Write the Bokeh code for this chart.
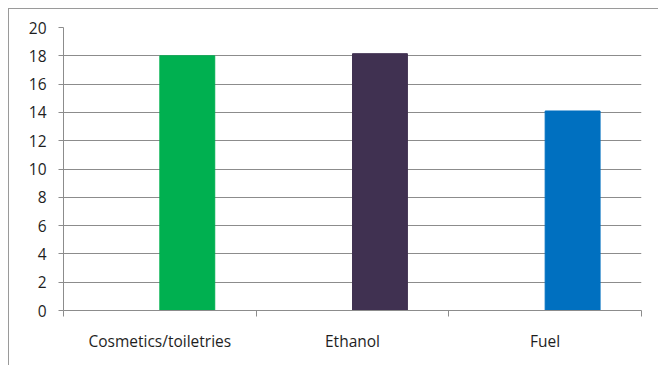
from bokeh.plotting import figure
from bokeh.models import ColumnDataSource, FixedTicker, Range1d
from bokeh.embed import file_html
from bokeh.resources import INLINE
import numpy as np

categories = ["Cosmetics/toiletries", "Ethanol", "Fuel"]
values = [18.0, 18.15, 14.1]
colors = ["#00B050", "#403151", "#0070C0"]
y_ticks = [0, 2, 4, 6, 8, 10, 12, 14, 16, 18, 20]

bar_w = 0.285
idx = np.arange(len(categories))
src = ColumnDataSource(dict(x=idx + 0.5 + bar_w / 2, top=values, color=colors, cat=categories))

p = figure(width=650, height=357, output_backend="svg", toolbar_location=None,
           x_range=Range1d(0, len(categories)), y_range=Range1d(0, 20),
           min_border_left=54, min_border_right=18, min_border_top=18, min_border_bottom=56)
p.margin = (8, 0, 0, 8)
p.styles = {"border-top": "1px solid #9a9a9a", "border-left": "1px solid #9a9a9a"}
p.outline_line_color = None
p.background_fill_color = "white"
p.border_fill_color = "white"

p.vbar(x="x", top="top", width=bar_w, bottom=0, color="color", source=src)

grid_c = "#8c8c8c"
font = "Open Sans"
fsize = "15.5px"
p.xgrid.grid_line_color = None
p.ygrid.grid_line_color = grid_c
p.ygrid.ticker = FixedTicker(ticks=y_ticks)

p.yaxis.ticker = FixedTicker(ticks=y_ticks)
p.yaxis.axis_line_color = grid_c
p.yaxis.major_tick_line_color = grid_c
p.yaxis.major_tick_out = 5
p.yaxis.major_tick_in = 0
p.yaxis.minor_tick_line_color = None
p.yaxis.major_label_text_font = font
p.yaxis.major_label_text_font_size = fsize
p.yaxis.major_label_text_color = "#1e1e1e"
p.yaxis.major_label_standoff = 12

centers = list(idx + 0.5)
p.xaxis.ticker = FixedTicker(ticks=centers, minor_ticks=list(range(len(categories) + 1)))
p.xaxis.major_label_overrides = {float(c): n for c, n in zip(centers, categories)}
p.xaxis.axis_line_color = grid_c
p.xaxis.major_tick_line_color = None
p.xaxis.minor_tick_line_color = grid_c
p.xaxis.minor_tick_out = 6
p.xaxis.minor_tick_in = 0
p.xaxis.major_label_text_font = font
p.xaxis.major_label_text_font_size = fsize
p.xaxis.major_label_text_color = "#1e1e1e"
p.xaxis.major_label_standoff = 13

open("out.html", "w").write(file_html(p, INLINE))
